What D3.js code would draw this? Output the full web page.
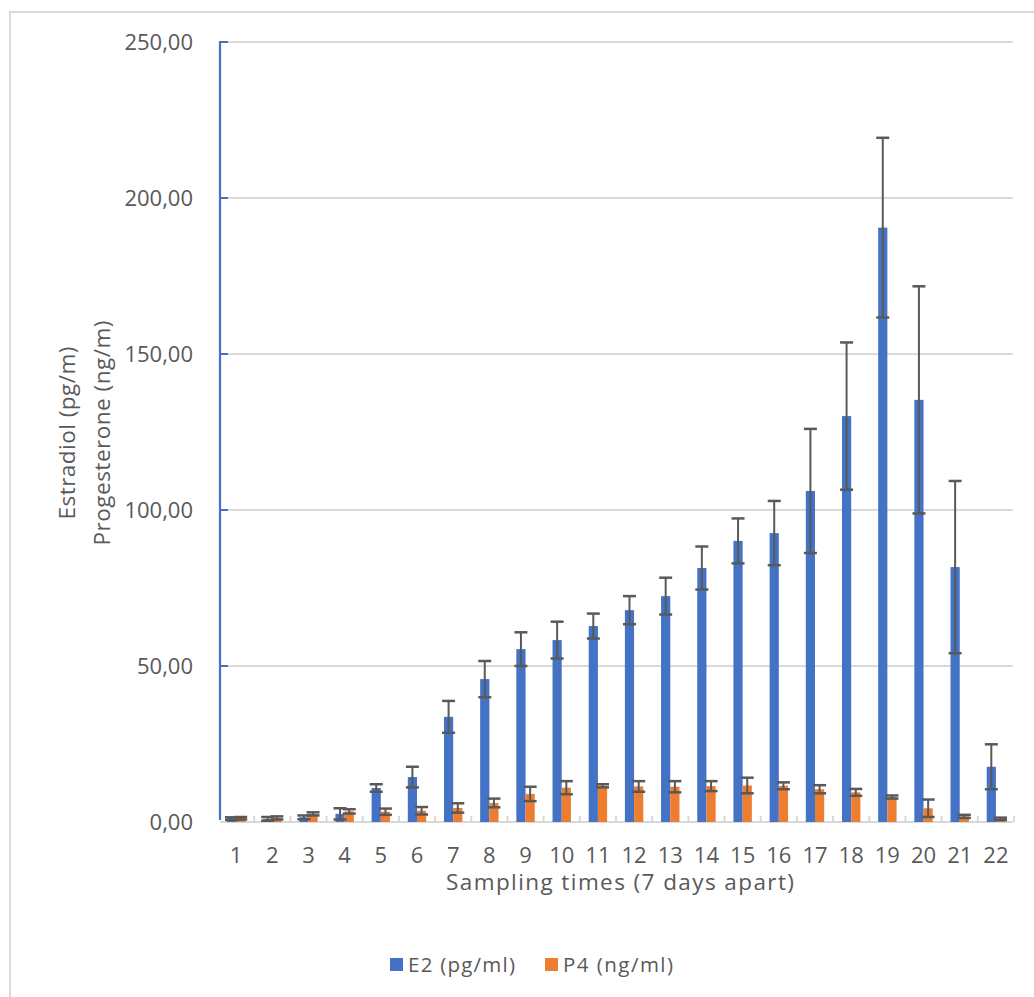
<!DOCTYPE html>
<html>
<head>
<meta charset="utf-8">
<script src="https://cdn.jsdelivr.net/npm/d3@7"></script>
<style>
  html, body { margin: 0; padding: 0; background: #ffffff; }
  svg { display: block; }
  text { font-family: "Open Sans", "Noto Sans", sans-serif; fill: #595959; }
</style>
</head>
<body>
<svg id="chart" width="1034" height="997"></svg>
<script>
const categories = ["1","2","3","4","5","6","7","8","9","10","11","12","13","14","15","16","17","18","19","20","21","22"];
const e2Values = [1.1, 1.0, 1.5, 2.6, 10.9, 14.4, 33.7, 45.8, 55.4, 58.3, 62.8, 67.9, 72.4, 81.4, 90.1, 92.6, 106.1, 130.1, 190.5, 135.3, 81.7, 17.7];
const e2Errors = [0.4, 0.6, 0.6, 1.8, 1.2, 3.3, 5.1, 5.8, 5.4, 5.9, 4.0, 4.5, 5.9, 6.9, 7.2, 10.3, 19.9, 23.6, 28.8, 36.4, 27.6, 7.2];
const p4Values = [1.2, 1.3, 2.6, 3.4, 3.3, 3.6, 4.5, 6.1, 9.0, 11.0, 11.6, 11.4, 11.3, 11.5, 11.7, 11.6, 10.5, 9.5, 8.0, 4.4, 1.8, 1.0];
const p4Errors = [0.4, 0.5, 0.5, 0.7, 1.0, 1.2, 1.5, 1.4, 2.3, 2.1, 0.5, 1.7, 1.8, 1.6, 2.5, 1.1, 1.3, 1.1, 0.5, 2.8, 0.5, 0.4];
const yTicks = [0, 50, 100, 150, 200, 250];
const seriesNames = ["E2 (pg/ml)", "P4 (ng/ml)"];
const seriesColors = ["#4472c4", "#ed7d31"];
const xTitle = "Sampling times (7 days apart)";
const yTitleLines = ["Estradiol (pg/m)", "Progesterone (ng/m)"];

const svg = d3.select("#chart");

// outer border
svg.append("rect").attr("x", 10).attr("y", 12).attr("width", 1040).attr("height", 1000)
  .attr("fill", "none").attr("stroke", "#d9d9d9").attr("stroke-width", 2);

const plotLeft = 218, plotRight = 1014, plotTop = 42, plotBottom = 822;
const x = d3.scaleBand().domain(categories).range([plotLeft, plotRight]).padding(0);
const y = d3.scaleLinear().domain([0, 250]).range([plotBottom, plotTop]);
const sub = d3.scaleBand().domain([0, 1]).range([x.bandwidth() / 2 - 9.2, x.bandwidth() / 2 + 9.2]).padding(0);

// gridlines
svg.append("g").selectAll("line").data(yTicks.filter(d => d > 0)).join("line")
  .attr("x1", 221).attr("x2", 1013)
  .attr("y1", d => y(d)).attr("y2", d => y(d))
  .attr("stroke", "#d9d9d9").attr("stroke-width", 2);

// x baseline + ticks
svg.append("line").attr("x1", 220).attr("x2", 1013).attr("y1", y(0)).attr("y2", y(0))
  .attr("stroke", "#d9d9d9").attr("stroke-width", 2);
svg.append("g").selectAll("line").data(categories.slice(1).concat(["end"])).join("line")
  .attr("x1", (d, i) => plotLeft + (i + 1) * x.step())
  .attr("x2", (d, i) => plotLeft + (i + 1) * x.step())
  .attr("y1", y(0)).attr("y2", y(0) - 6)
  .attr("stroke", "#d9d9d9").attr("stroke-width", 2);

// y axis tick labels
const fmt = d => d3.format(".2f")(d).replace(".", ",");
svg.append("g").selectAll("text").data(yTicks).join("text")
  .attr("x", 193).attr("y", d => y(d)).attr("dy", "0.36em")
  .attr("text-anchor", "end").attr("font-size", 22).text(fmt);

// bars
const series = [
  { values: e2Values, errors: e2Errors },
  { values: p4Values, errors: p4Errors }
];
series.forEach((s, si) => {
  const g = svg.append("g");
  g.selectAll("rect").data(categories).join("rect")
    .attr("x", d => x(d) + sub(si))
    .attr("width", sub.bandwidth())
    .attr("y", (d, i) => y(s.values[i]))
    .attr("height", (d, i) => y(0) - y(s.values[i]))
    .attr("fill", seriesColors[si]);
});
// error bars
series.forEach((s, si) => {
  const g = svg.append("g").attr("stroke", "#595959").attr("stroke-width", 2).attr("fill", "none");
  categories.forEach((c, i) => {
    const cx = x(c) + sub(si) + sub.bandwidth() / 2;
    const lo = y(s.values[i] - s.errors[i]);
    const hi = y(s.values[i] + s.errors[i]);
    g.append("line").attr("x1", cx).attr("x2", cx).attr("y1", lo).attr("y2", hi);
    g.append("line").attr("x1", cx - 6.5).attr("x2", cx + 6.5).attr("y1", lo).attr("y2", lo).attr("stroke-width", 2.5);
    g.append("line").attr("x1", cx - 6.5).attr("x2", cx + 6.5).attr("y1", hi).attr("y2", hi).attr("stroke-width", 2.5);
  });
});

// y axis line (blue) with inside ticks
svg.append("line").attr("x1", 220).attr("x2", 220).attr("y1", y(250) - 1).attr("y2", y(0) - 2)
  .attr("stroke", "#4472c4").attr("stroke-width", 2.2);
svg.append("g").selectAll("line").data(yTicks.filter(d => d > 0)).join("line")
  .attr("x1", 220).attr("x2", 228).attr("y1", d => y(d)).attr("y2", d => y(d))
  .attr("stroke", "#4472c4").attr("stroke-width", 2);

// x tick labels
svg.append("g").selectAll("text").data(categories).join("text")
  .attr("x", d => x(d) + x.bandwidth() / 2).attr("y", 862.5)
  .attr("text-anchor", "middle").attr("font-size", 22).text(d => d);

// x title
svg.append("text").attr("x", 620).attr("y", 890).attr("text-anchor", "middle")
  .attr("font-size", 22.5).attr("textLength", 348).attr("lengthAdjust", "spacing").text(xTitle);

// y title
const yCenters = [67, 102];
const yLens = [173, 225];
yTitleLines.forEach((t, i) => {
  svg.append("text").attr("transform", `translate(${yCenters[i]},433) rotate(-90)`)
    .attr("text-anchor", "middle").attr("dy", "0.35em").attr("font-size", 22.5)
    .attr("textLength", yLens[i]).attr("lengthAdjust", "spacing").text(t);
});

// legend
const legendX = [390, 545];
const legendLens = [107, 110];
seriesNames.forEach((n, i) => {
  svg.append("rect").attr("x", legendX[i]).attr("y", 958).attr("width", 13).attr("height", 13)
    .attr("fill", seriesColors[i]);
  svg.append("text").attr("x", legendX[i] + 18).attr("y", 972).attr("font-size", 20.5)
    .attr("textLength", legendLens[i]).attr("lengthAdjust", "spacing").text(n);
});
</script>
</body>
</html>
